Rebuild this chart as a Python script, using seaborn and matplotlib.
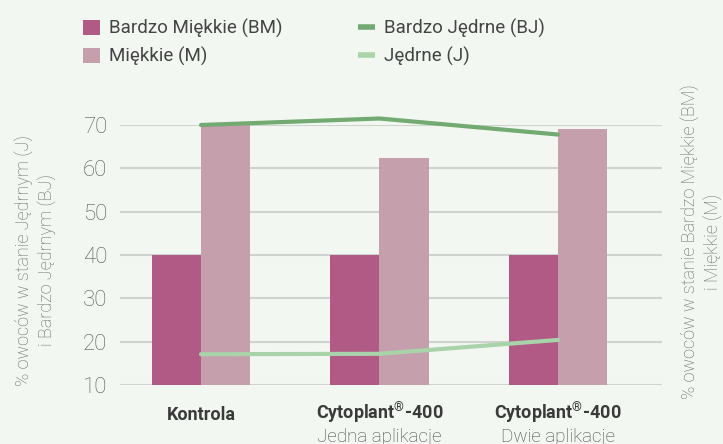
import matplotlib
matplotlib.use("Agg")
import matplotlib.pyplot as plt
import matplotlib.transforms as mtransforms
from matplotlib.patches import Patch
from matplotlib.lines import Line2D
import numpy as np
import pandas as pd
import seaborn as sns

categories = ["Kontrola", "Cytoplant®-400", "Cytoplant®-400"]
subtitles = ["", "Jedna aplikacje", "Dwie aplikacje"]
bm_values = [40, 40, 40]
m_values = [70, 62.4, 69]
bj_values = [70, 71.5, 67.8]
j_values = [17.1, 17.2, 20.4]
y_ticks = [10, 20, 30, 40, 50, 60, 70]

BG = "#F2F8F1"
C_BM = "#B05A85"
C_M = "#C69FAD"
C_BJ = "#72AA72"
C_J = "#A9D3A9"

sns.set_theme(style="white")
plt.rcParams["font.family"] = ["Roboto", "DejaVu Sans"]
plt.rcParams["mathtext.fontset"] = "custom"
plt.rcParams["mathtext.rm"] = "Roboto"
plt.rcParams["mathtext.it"] = "Roboto"
plt.rcParams["mathtext.bf"] = "Roboto:bold"

fig = plt.figure(figsize=(7.23, 4.44), dpi=100, facecolor=BG)
ax = fig.add_axes([120/723, 1-385/444, (662-120)/723, (385-125)/444])
ax.set_facecolor(BG)

keys = [f"c{i}" for i in range(len(categories))]
bar_df = pd.DataFrame({
    "cat": keys * 2,
    "series": ["BM"] * len(keys) + ["M"] * len(keys),
    "val": bm_values + m_values,
})
bottom = y_ticks[0]
bar_df["h"] = bar_df["val"] - bottom
sns.barplot(data=bar_df, x="cat", y="h", hue="series", order=keys,
            palette={"BM": C_BM, "M": C_M}, width=0.55, saturation=1,
            bottom=bottom, ax=ax, legend=False, edgecolor="none")

xs = np.arange(len(categories))
sns.lineplot(x=xs, y=bj_values, color=C_BJ, linewidth=3.0, ax=ax,
             clip_on=False, zorder=5)
sns.lineplot(x=xs, y=j_values, color=C_J, linewidth=3.0, ax=ax,
             clip_on=False, zorder=5)

ax.set_ylim(10, 70)
ax.set_xlim(-0.454, 2.583)
ax.set_yticks(y_ticks)
ax.yaxis.grid(True, color="#CFD3CF", linewidth=1.5)
ax.set_axisbelow(True)
for s in ax.spines.values():
    s.set_visible(False)
ax.tick_params(axis="y", length=0, pad=9, labelsize=16, labelcolor="#555555")
for t in ax.get_yticklabels():
    t.set_fontweight("light")
ax.set_xticks(xs)
ax.set_xticklabels([])
ax.tick_params(axis="x", length=0)
ax.set_xlabel("")
ax.set_ylabel("")

trans = mtransforms.blended_transform_factory(ax.transData, fig.transFigure)
for x, cat, sub in zip(xs, categories, subtitles):
    ax.text(x, 1-420/444, cat.replace("®", "$^{®}$"), transform=trans,
            ha="center", va="baseline", fontsize=13, fontweight="bold",
            color="#3a3a3a")
    if sub:
        ax.text(x, 1-442/444, sub, transform=trans, ha="center", va="baseline",
                fontsize=13.5, fontweight="light", color="#444444")

fig.text(35/723, 1-260/444, "% owoców w stanie Jędrnym (J)\ni Bardzo Jędrnym (BJ)",
         rotation=90, ha="center", va="center", fontsize=13, fontweight="light",
         color="#666666", linespacing=1.25, multialignment="center")
fig.text(701/723, 1-242/444, "% owoców w stanie Bardzo Miękkie (BM)\ni Miękkie (M)",
         rotation=90, ha="center", va="center", fontsize=13, fontweight="light",
         color="#666666", linespacing=1.25, multialignment="center")

handles = [
    Patch(facecolor=C_BM, edgecolor="none"),
    Patch(facecolor=C_M, edgecolor="none"),
    Line2D([0], [0], color=C_BJ, linewidth=4, solid_capstyle="butt"),
    Line2D([0], [0], color=C_J, linewidth=4, solid_capstyle="butt"),
]
labels = ["Bardzo Miękkie (BM)", "Miękkie (M)", "Bardzo Jędrne (BJ)", "Jędrne (J)"]
leg = fig.legend(handles, labels, ncol=2, loc="upper left",
                 bbox_to_anchor=(83/723, 1-19/444), frameon=False,
                 borderpad=0, borderaxespad=0,
                 fontsize=13.5, handlelength=0.9, handleheight=0.85,
                 handletextpad=0.5, columnspacing=4.0, labelspacing=0.45,
                 labelcolor="#444444")

fig.savefig("out.png", dpi=100, facecolor=BG)
